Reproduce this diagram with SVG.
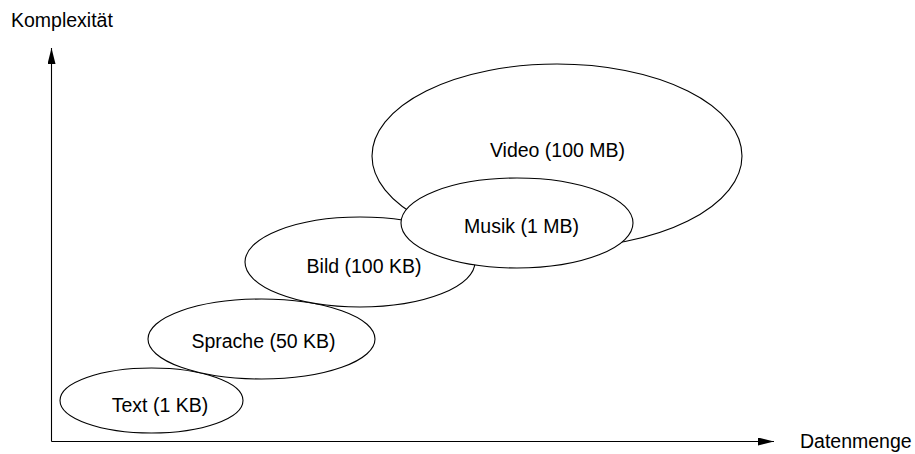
<svg xmlns="http://www.w3.org/2000/svg" width="915" height="454" viewBox="0 0 915 454">
  <style>
    .bubble { fill: #ffffff; stroke: #000000; stroke-width: 1.1; }
    .label { font-family: "Liberation Sans", Arial, sans-serif; font-size: 19.5px; fill: #000000; }
    .mid { text-anchor: middle; }
    .axis { stroke: #000000; stroke-width: 1.1; fill: none; }
  </style>
  <defs>
    <marker id="arrowhead" viewBox="0 0 16 8" refX="16" refY="4" markerWidth="16" markerHeight="8" markerUnits="userSpaceOnUse" orient="auto">
      <path d="M0,0 L16,4 L0,8 Z" fill="#000000"/>
    </marker>
  </defs>

  <rect width="915" height="454" fill="#ffffff"/>

  <!-- axes -->
  <g id="axes">
    <path class="axis" d="M51.5,441.5 L51.5,48" marker-end="url(#arrowhead)"/>
    <path class="axis" d="M51.5,441.5 L774,441.5" marker-end="url(#arrowhead)"/>
    <text class="label" x="11" y="27">Komplexität</text>
    <text class="label" x="800" y="448">Datenmenge</text>
  </g>

  <!-- media types, drawn back to front -->
  <g id="text-node">
    <ellipse class="bubble" cx="151.5" cy="400.5" rx="91.5" ry="32.5"/>
    <text class="label mid" x="160" y="412">Text (1 KB)</text>
  </g>
  <g id="sprache-node">
    <ellipse class="bubble" cx="261.5" cy="339" rx="113.5" ry="40"/>
    <text class="label mid" x="263.5" y="348">Sprache (50 KB)</text>
  </g>
  <g id="bild-node">
    <ellipse class="bubble" cx="360" cy="262" rx="115" ry="45"/>
    <text class="label mid" x="364" y="273">Bild (100 KB)</text>
  </g>
  <g id="video-node">
    <ellipse class="bubble" cx="557" cy="156" rx="185" ry="92"/>
    <text class="label mid" x="557.5" y="157">Video (100 MB)</text>
  </g>
  <g id="musik-node">
    <ellipse class="bubble" cx="517" cy="223" rx="116" ry="45"/>
    <text class="label mid" x="521.5" y="233">Musik (1 MB)</text>
  </g>
</svg>
